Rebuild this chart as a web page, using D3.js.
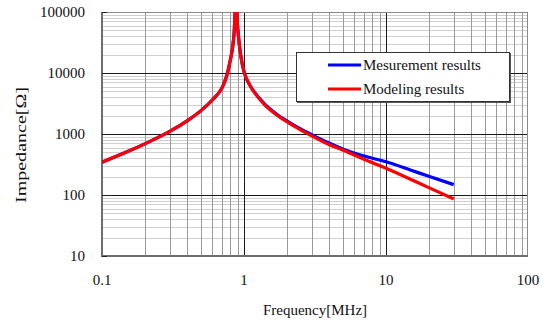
<!DOCTYPE html>
<html>
<head>
<meta charset="utf-8">
<script src="https://cdn.jsdelivr.net/npm/d3@7"></script>
<style>
  html, body { margin: 0; padding: 0; background: #fff; }
  svg { display: block; font-family: "Liberation Serif", "Times New Roman", serif; }
</style>
</head>
<body>
<div id="viz"></div>
<script>
// values (frequency in MHz, impedance in ohm)
const freqModel = [0.1, 0.15, 0.2, 0.3, 0.4, 0.5, 0.6, 0.7, 0.75, 0.8, 0.84, 0.855, 0.865, 0.878, 0.89, 0.91, 0.95, 1.0, 1.1, 1.2, 1.4, 1.7, 2.0, 2.5, 3.0, 4.0, 5.0, 7.0, 10, 15, 20, 30];
const zModel    = [345, 510, 690, 1100, 1660, 2440, 3650, 5700, 8500, 16000, 32000, 52000, 100000, 400000, 100000, 45000, 19000, 10500, 6300, 4600, 3000, 2050, 1590, 1170, 930, 665, 540, 385, 275, 180, 132, 86];

const freqMeas = [0.1, 0.15, 0.2, 0.3, 0.4, 0.5, 0.6, 0.7, 0.75, 0.8, 0.84, 0.855, 0.865, 0.878, 0.89, 0.91, 0.95, 1.0, 1.1, 1.2, 1.4, 1.7, 2.0, 2.5, 3.0, 4.0, 5.0, 7.0, 10, 15, 20, 30];
const zMeas     = [345, 510, 690, 1100, 1660, 2440, 3650, 5700, 8500, 16000, 32000, 52000, 100000, 400000, 100000, 45000, 19000, 10500, 6300, 4650, 3080, 2110, 1640, 1210, 975, 705, 565, 435, 350, 255, 203, 148];

const xTicks = [0.1, 1, 10, 100];
const yTicks = [10, 100, 1000, 10000, 100000];
const seriesNames = ["Mesurement results", "Modeling results"];
const seriesColors = ["#0000ff", "#ff0000"];

const WIDTH = 550, HEIGHT = 321;
const plot = { left: 102, right: 528, top: 12, bottom: 256 };

const svg = d3.select("#viz").append("svg")
  .attr("width", WIDTH)
  .attr("height", HEIGHT);

const x = d3.scaleLog().domain([0.1, 100]).range([plot.left, plot.right]);
const y = d3.scaleLog().domain([10, 100000]).range([plot.bottom, plot.top]);

// minor values for each decade
const minorX = [];
for (let d = 0.1; d < 100; d *= 10) for (let k = 2; k <= 9; k++) minorX.push(d * k);
const minorY = [];
for (let d = 10; d < 100000; d *= 10) for (let k = 2; k <= 9; k++) minorY.push(d * k);

const grid = svg.append("g").attr("shape-rendering", "crispEdges");

grid.selectAll(".hminor")
  .data(minorY)
  .join("line")
  .attr("x1", plot.left).attr("x2", plot.right)
  .attr("y1", d => Math.round(y(d)) + 0.5).attr("y2", d => Math.round(y(d)) + 0.5)
  .attr("stroke", "#cfcfcf");

grid.selectAll(".vminor")
  .data(minorX)
  .join("line")
  .attr("y1", plot.top).attr("y2", plot.bottom)
  .attr("x1", d => Math.round(x(d)) + 0.5).attr("x2", d => Math.round(x(d)) + 0.5)
  .attr("stroke", "#9a9a9a");

grid.selectAll(".hmajor")
  .data(yTicks.slice(1, -1))
  .join("line")
  .attr("x1", plot.left).attr("x2", plot.right)
  .attr("y1", d => Math.round(y(d)) + 0.5).attr("y2", d => Math.round(y(d)) + 0.5)
  .attr("stroke", "#1a1a1a");

grid.selectAll(".vmajor")
  .data(xTicks.slice(1, -1))
  .join("line")
  .attr("y1", plot.top).attr("y2", plot.bottom)
  .attr("x1", d => Math.round(x(d)) + 0.5).attr("x2", d => Math.round(x(d)) + 0.5)
  .attr("stroke", "#1a1a1a");

// frame
grid.append("line")
  .attr("x1", plot.left).attr("x2", plot.right)
  .attr("y1", plot.top + 0.5).attr("y2", plot.top + 0.5)
  .attr("stroke", "#8a8a8a");
grid.append("line")
  .attr("x1", plot.right - 0.5).attr("x2", plot.right - 0.5)
  .attr("y1", plot.top).attr("y2", plot.bottom)
  .attr("stroke", "#8a8a8a");
grid.append("line")
  .attr("x1", plot.left).attr("x2", plot.left)
  .attr("y1", plot.top).attr("y2", plot.bottom + 1)
  .attr("stroke", "#6e6e6e").attr("stroke-width", 2);
grid.append("line")
  .attr("x1", plot.left).attr("x2", plot.right)
  .attr("y1", plot.bottom).attr("y2", plot.bottom)
  .attr("stroke", "#6e6e6e").attr("stroke-width", 2);

// inward ticks on the left axis
grid.selectAll(".ytick")
  .data(yTicks)
  .join("line")
  .attr("x1", plot.left).attr("x2", plot.left + 5)
  .attr("y1", d => Math.round(y(d)) + 0.5).attr("y2", d => Math.round(y(d)) + 0.5)
  .attr("stroke", "#222");

// tick labels
svg.append("g")
  .selectAll("text")
  .data(yTicks)
  .join("text")
  .attr("x", 85)
  .attr("y", d => y(d))
  .attr("dy", "0.35em")
  .attr("text-anchor", "end")
  .style("font-size", "15px")
  .attr("fill", "#111")
  .text(d => d3.format("d")(d));

svg.append("g")
  .selectAll("text")
  .data(xTicks)
  .join("text")
  .attr("x", d => x(d))
  .attr("y", 285)
  .attr("text-anchor", "middle")
  .style("font-size", "15px")
  .attr("fill", "#111")
  .text(d => d < 1 ? d3.format(".1f")(d) : d3.format("d")(d));

// axis titles
svg.append("text")
  .attr("x", 315)
  .attr("y", 315)
  .attr("text-anchor", "middle")
  .style("font-size", "15px")
  .attr("fill", "#111")
  .text("Frequency[MHz]");

svg.append("text")
  .attr("transform", "translate(26,145) rotate(-90)")
  .attr("text-anchor", "middle")
  .attr("textLength", 116)
  .attr("lengthAdjust", "spacingAndGlyphs")
  .style("font-size", "15px")
  .attr("fill", "#111")
  .text("Impedance[Ω]");

// curves
svg.append("clipPath").attr("id", "plot-clip")
  .append("rect")
  .attr("x", plot.left).attr("y", plot.top)
  .attr("width", plot.right - plot.left).attr("height", plot.bottom - plot.top);

const line = d3.line()
  .x(d => x(d[0]))
  .y(d => y(d[1]))
  .curve(d3.curveMonotoneX);

const curves = svg.append("g").attr("clip-path", "url(#plot-clip)");
curves.append("path")
  .datum(freqMeas.map((f, i) => [f, zMeas[i]]))
  .attr("d", line)
  .attr("fill", "none")
  .attr("stroke", seriesColors[0])
  .attr("stroke-width", 3.2)
  .attr("stroke-linejoin", "round");
curves.append("path")
  .datum(freqModel.map((f, i) => [f, zModel[i]]))
  .attr("d", line)
  .attr("fill", "none")
  .attr("stroke", seriesColors[1])
  .attr("stroke-width", 3.2)
  .attr("stroke-linejoin", "round");

// legend
const legend = svg.append("g");
legend.append("rect")
  .attr("x", 297).attr("y", 53)
  .attr("width", 214).attr("height", 50)
  .attr("fill", "#555");
legend.append("rect")
  .attr("x", 296.5).attr("y", 52.5)
  .attr("width", 213).attr("height", 49)
  .attr("fill", "#fff")
  .attr("stroke", "#333");

legend.selectAll(".key")
  .data(seriesNames)
  .join("line")
  .attr("x1", 328).attr("x2", 361)
  .attr("y1", (d, i) => 65 + i * 24).attr("y2", (d, i) => 65 + i * 24)
  .attr("stroke", (d, i) => seriesColors[i])
  .attr("stroke-width", 3);

legend.selectAll("text")
  .data(seriesNames)
  .join("text")
  .attr("x", 363)
  .attr("y", (d, i) => 65 + i * 24)
  .attr("dy", "0.35em")
  .style("font-size", "15px")
  .attr("fill", "#111")
  .text(d => d);
</script>
</body>
</html>
